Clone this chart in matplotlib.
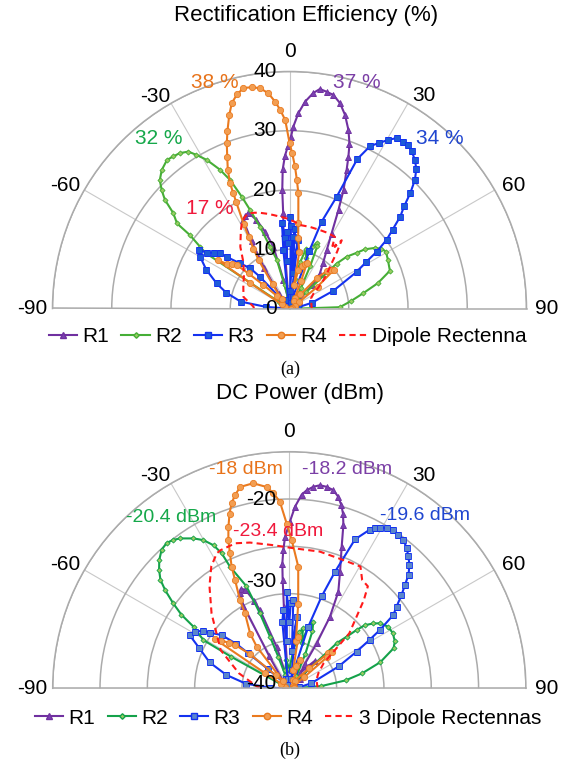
import numpy as np
import matplotlib
matplotlib.use("Agg")
import matplotlib.pyplot as plt
import matplotlib.transforms as mtransforms
from matplotlib.lines import Line2D

plt.rcParams["font.family"] = ["Liberation Sans", "DejaVu Sans"]

W, H = 575, 777

# ---------------- (a) rectification efficiency (%) ----------------
eff_r1_theta = [-90, -75, -60, -45, -36, -32, -29.5, -27.6, -25.5, -23.3, -20.5, -17.6, -14.6, -12, -9,
                -6.5, -4.5, -3.8, -3.5, -2.8, -1.7, -0.5, 0.5, 1.2, 2.6, 4.3, 6.3, 7.9, 9.8, 11.6, 13.8,
                16, 18.3, 20, 21.2, 22.4, 24.5, 26.4, 29.3, 32.5, 36.5, 41, 44, 50, 60, 75, 90]
eff_r1 = [0.3, 0.5, 0.8, 1.5, 3, 8, 13, 16.8, 17.3, 17.6, 16, 13.6, 10.8, 5, 2,
          1.5, 12.8, 16.1, 20, 23.5, 25.8, 27.5, 29, 30.7, 33, 35, 36.6, 37.4, 37.1, 36.8, 35.7,
          34, 31.7, 29.6, 27.5, 25.3, 22, 18.6, 14.5, 11.7, 9.5, 7.8, 5.5, 2, 1, 0.5, 0.3]

eff_r2_theta = [-90, -75, -65, -58, -56.5, -55.4, -53.6, -52.9, -50.6, -48.9, -47.2, -45.3, -42.7, -39.5,
                -37.4, -35.2, -32.8, -31.2, -29.1, -26.6, -24.8, -23.1, -21.8, -19.9, -17.4, -14.6, -12,
                -8, -4, 0, 5, 10, 13, 15.5, 18, 20, 22.5, 24, 26, 29, 33, 38, 43, 45.5, 46.4, 47.8, 50.3,
                51.9, 54.7, 57, 59.5, 64, 69.4, 74, 78.3, 83, 88.5, 90]
eff_r2 = [0.5, 0.8, 1, 2, 17, 18.3, 20.9, 23.8, 25.4, 27.9, 29.4, 30.8, 31.8, 32.5,
          32.3, 32.1, 31.5, 30.3, 28.7, 26.2, 23.9, 20.5, 17.9, 14.7, 10.9, 8.5, 4,
          2, 3, 1.5, 2.5, 5, 8, 10.5, 9, 11, 12, 11.5, 8, 4, 2, 1.5, 2, 4, 11, 13, 14.7,
          16.2, 17.7, 18.5, 18.9, 18.5, 18.1, 15.5, 12.7, 10.5, 8.5, 2]

eff_r3_theta = [-90, -86, -82, -76, -71, -65, -60, -57, -56, -53.7, -51.5, -50.6, -47.6, -44.3, -43, -41,
                -35, -25, -15, -8, -6, -5, -4, -3, -2, -1, 0, 1, 2, 3, 4, 5, 7, 9, 12, 17, 19, 20.3,
                22.9, 24.4, 26.4, 28.3, 30.4, 32.2, 34.3, 36, 37.9, 40.2, 42.3, 44.3, 46.3, 48.3, 50.3,
                52.6, 54.7, 56.9, 58.7, 61.4, 68, 75.6, 82, 90]
eff_r3 = [0.5, 4, 8.3, 11, 13, 15.5, 17.4, 18.2, 16.8, 15.9, 15, 13.7, 11.3, 9.5, 7.3, 2,
          1, 1.5, 1, 1.5, 10, 14.5, 12, 8, 13, 11, 15.5, 14, 3, 12, 13.5, 6, 11.6, 2, 1, 2, 10.3, 15.6,
          20.5, 27.7, 30.6, 31.7, 33, 34, 34.1, 34.1, 33.6, 32.8, 31.8, 30.3, 28.2, 25.9, 24.3,
          21.9, 20.1, 17.6, 15.2, 12.9, 8, 3.9, 1.5, 0.5]

eff_r4_theta = [-90, -75, -62, -57, -56, -54.5, -52.5, -50.5, -49.5, -48, -45, -40, -35, -32.5, -31, -29.7,
                -28.4, -26.6, -26, -25.4, -24, -22.3, -20.8, -19.3, -17.3, -15.7, -13.8, -11.8, -9.7, -7.6,
                -5.6, -4, -2.7, -1.3, 0, 1, 2.2, 3.3, 4.4, 5.9, 7, 9.8, 11, 13, 16, 19, 21, 23, 26, 32, 38,
                42, 45, 47, 49, 52, 56, 65, 78, 90]
eff_r4 = [0.5, 0.8, 1.5, 8, 14.5, 13, 12.3, 11.5, 9.1, 6, 3, 2, 5, 9.7, 11.8, 13.9,
          16.3, 20.1, 21.6, 23.4, 25.6, 27.7, 29.8, 31.7, 34.2, 36, 37.2, 38, 37.9, 37.5,
          36.5, 35, 33.6, 31.8, 28, 26.2, 24, 21.7, 19.5, 14.5, 12, 9.7, 4, 6.7, 7.5, 8, 8.2, 5, 2, 1.5, 3,
          7, 9, 9.5, 9.9, 6, 2, 1, 0.5, 0.3]

eff_dip_theta = [-90, -87, -76, -65, -55, -45, -38.6, -32, -29.2, -26, -23.3, -20, -17.1, -13, -9.7, -5,
                 -1.7, 3, 7.2, 14, 21.3, 27, 32.4, 34.5, 35.5, 36.3, 37.4, 38.5, 40, 42, 46, 50, 54, 58,
                 65, 75, 90]
eff_dip = [6, 6.1, 8, 8.6, 9.4, 11, 13.3, 15.5, 16.5, 17.2, 17.5, 17.2, 16.9, 16.4, 16, 15.5,
           15.2, 14.7, 14.2, 14.2, 14.2, 14.3, 14.3, 12.8, 13.6, 12.9, 14.5, 13.5, 12.5, 11, 9, 7.5, 6, 4.8,
           4, 3.8, 3.75]

# ---------------- (b) DC power (dBm) ----------------
dc_r1_theta = [-90, -60, -40, -32, -29, -27.4, -26, -24, -22, -20.5, -17, -14, -10, -6, -4.5, -3.8, -3.5,
               -3.2, -2.5, -1.6, 0.2, 1.8, 3.65, 5, 6.8, 8.6, 10.5, 12.5, 14.3, 15.9, 17.1, 18.3, 20.3,
               23.5, 26.9, 29.6, 31.3, 32.5, 36, 40, 43, 50, 70, 90]
dc_r1 = [-39.5, -39.5, -39, -36, -30, -28.7, -28.3, -28.6, -30, -31.2, -35.4, -38.5, -39, -38, -35, -31.4, -28.5,
         -26.8, -25.4, -24, -22.4, -20.8, -19.5, -19, -18.55, -18.3, -18.35, -18.55, -19.1, -19.9, -20.7, -21.8, -24.05,
         -26.55, -28.55, -31.3, -34.4, -36.9, -38, -37, -36, -38.5, -39.5, -39.5]

dc_r2_theta = [-90, -75, -64, -61.5, -60.7, -57.3, -55.7, -53.8, -51.7, -49.9, -47.7, -45.4, -42.7, -40.2,
               -38, -36.1, -32.6, -30.1, -27.9, -26.6, -26, -22.8, -21.4, -20.5, -19.2, -17, -12, -6, 0, 6,
               10, 13, 15, 17.1, 19.8, 22, 25, 30, 38, 45, 46.5, 48, 49.1, 50.1, 52.3, 54.4, 58.1, 62, 66,
               69, 74, 78.4, 82, 86, 90]
dc_r2 = [-39.5, -39.5, -39, -33, -29.6, -28, -26.2, -24.8, -23.3, -22.2, -21.4, -20.7, -20.1, -19.9,
         -20.1, -20.4, -21.2, -21.9, -22.9, -24.05, -25.7, -28.3, -31.5, -34.2, -36.5, -38.5, -38, -37, -38, -36,
         -34, -33.5, -35, -33.2, -32.5, -33.5, -36, -38.5, -39, -38, -33, -31.85, -30.6, -29.6, -28.8, -28.2, -27.7, -27.6, -27.8,
         -28.2, -30, -32.15, -34, -36.6, -39.5]

dc_r3_theta = [-90, -88, -84, -78, -72, -66, -62, -59, -56.2, -54.9, -51.8, -50, -49.5, -48, -45, -35, -20,
               -10, -6, -4.4, -3, -1.5, 0, 1, 2.6, 4, 5.9, 8, 12, 15, 17.1, 19.4, 21.4, 23.8, 26.9, 28.2,
               29.4, 31.3, 33.4, 35.4, 37.5, 40, 42, 44.2, 46.4, 48.2, 50.3, 52.7, 54.8, 57.2, 58.9, 61.4,
               66.1, 77, 85, 90]
dc_r3 = [-39.5, -38, -35.4, -33.2, -31.15, -29.6, -28.1, -28.4, -29.05, -29.8, -30.9, -32.7, -34.3, -37, -39, -39.5, -39,
         -39, -33, -31.7, -35, -29.8, -33, -31, -30.7, -36, -32.4, -38, -39, -38, -33.2, -29.7, -26.8, -22.8, -21.2, -20.8,
         -20.5, -20.2, -20.0, -20.1, -20.2, -20.7, -21.2, -21.8, -22.6, -23.6, -24.6, -25.75, -26.55, -28.6, -30.1, -31.9,
         -34.3, -37.6, -39, -39.5]

dc_r4_theta = [-90, -70, -60, -58, -56.5, -55, -53, -51.3, -49, -46, -42, -38, -35.6, -30.6, -29.2, -26.6,
               -25.4, -23.7, -22.4, -20.7, -18.9, -17.3, -15.7, -13.7, -10, -6.4, -4.7, -2.9, -0.9, 0.9,
               4.2, 6, 8, 9.9, 12, 16, 20.6, 25, 35, 45, 48, 49.1, 50.5, 53, 60, 75, 90]
dc_r4 = [-39.5, -39.5, -39, -37, -30.6, -31.2, -32, -32.7, -34.5, -38, -39, -34.4, -32.9, -30.8, -29.3, -27.2,
         -25.8, -24.4, -23.1, -21.8, -20.5, -19.5, -18.8, -18.1, -18.0, -18.6, -19.3, -20.25, -22.6, -24.3,
         -27.1, -31, -35, -34.5, -38, -37.5, -36.8, -39, -39, -37, -34.5, -34.1, -34.8, -38, -39.5, -39.5, -39.5]

dc_dip_theta = [-90, -87, -73.4, -60.9, -46.1, -38, -32.6, -28.2, -26.4, -20.4, -15.1, -6.9, 2, 12.6, 22.3,
                30.3, 33.9, 37.6, 40.2, 47.5, 53.8, 62, 72.8, 90]
dc_dip = [-37, -36.6, -34.45, -31.7, -28.6, -26.3, -24.7, -23.8, -23.7, -23.65, -24.05, -24.75, -25.2, -25.2, -25.3,
          -25.1, -26.2, -26.4, -27.8, -31.4, -35.5, -36.5, -37, -37]

angle_ticks = [-90, -60, -30, 0, 30, 60, 90]
# where each angle label sits: (shown angle in deg, distance from centre in px)
angle_label_pos = [(-90, 257), (-61.2, 256), (-32.2, 251), (0, 257), (32.2, 252), (61.2, 256), (90, 257)]

PURPLE = "#7030A0"
GREEN_A = "#46AE36"
GREEN_B = "#14A24A"
BLUE = "#1432F0"
ORANGE = "#EA7A1F"
RED = "#FF1A1A"

fig = plt.figure(figsize=(W / 100, H / 100), dpi=100)


def px(x, y):
    return x / W, 1 - y / H


def setup_polar(cx, cy, rad, rmin, rmax, rings, ring_labels):
    # polar axes keeps a square box; the half disc sits centred in it
    rect = [(cx - rad) / W, (H - cy - 0.5 * rad) / H, 2 * rad / W, 2 * rad / H]
    ax = fig.add_axes(rect, projection="polar")
    ax.set_theta_zero_location("N")
    ax.set_theta_direction(-1)
    ax.set_thetamin(-90)
    ax.set_thetamax(90)
    ax.set_ylim(rmin, rmax)
    ax.set_thetagrids(angle_ticks, labels=[""] * len(angle_ticks))
    ax.set_rgrids(rings, labels=[""] * len(rings))
    ax.xaxis.grid(True, color="#C8C8C8", lw=0.8)
    ax.yaxis.grid(True, color="#ABABAB", lw=1.1)
    for name in ("polar", "start", "end"):
        ax.spines[name].set_color("#ABABAB")
        ax.spines[name].set_linewidth(1.1)
    ax.spines["inner"].set_visible(False)
    ax.set_facecolor("none")
    for ang, (pos, dist) in zip(angle_ticks, angle_label_pos):
        r = rmin + (rmax - rmin) * dist / rad
        ax.text(np.radians(pos), r, str(ang), ha="center", va="center", fontsize=15)
    for val, dy in ring_labels:
        trans = mtransforms.offset_copy(ax.transData, fig=fig, x=-13, y=dy, units="dots")
        ax.text(0, val, str(val), transform=trans, ha="right", va="center", fontsize=15)
    return ax


def draw_series(ax, series, green, sq_face):
    (t1, v1), (t2, v2), (t3, v3), (t4, v4), (td, vd) = series
    ax.plot(np.radians(t1), v1, color=PURPLE, lw=1.5, marker="^", ms=4,
            mfc="#7B42B0", mec=PURPLE, mew=0.6)
    ax.plot(np.radians(t2), v2, color=green, lw=1.5, marker="D", ms=2.6,
            mfc="#98CC62", mec=green, mew=0.6)
    ax.plot(np.radians(t3), v3, color=BLUE, lw=1.5, marker="s", ms=4.2,
            mfc=sq_face, mec=BLUE, mew=0.6)
    ax.plot(np.radians(t4), v4, color=ORANGE, lw=1.5, marker="o", ms=4.5,
            mfc="#F29E52", mec=ORANGE, mew=0.6)
    ax.plot(np.radians(td), vd, color=RED, lw=1.5, ls=(0, (3, 2)))


def legend(y, last_label, green, sq_face):
    handles = [
        Line2D([], [], color=PURPLE, lw=1.5, marker="^", ms=4.5, mfc="#7B42B0", mec=PURPLE),
        Line2D([], [], color=green, lw=1.5, marker="D", ms=2.8, mfc="#98CC62", mec=green),
        Line2D([], [], color=BLUE, lw=1.5, marker="s", ms=4.4, mfc=sq_face, mec=BLUE),
        Line2D([], [], color=ORANGE, lw=1.5, marker="o", ms=4.6, mfc="#F29E52", mec=ORANGE),
        Line2D([], [], color=RED, lw=1.5, ls=(0, (3, 2))),
    ]
    fig.legend(handles, ["R1", "R2", "R3", "R4", last_label], loc="center",
               bbox_to_anchor=px(288, y), ncol=5, frameon=False, fontsize=15,
               handlelength=1.35, handletextpad=0.25, columnspacing=0.6, borderaxespad=0)


# (a)
ax_a = setup_polar(289.5, 308.5, 237, 0, 40, [10, 20, 30, 40],
                   [(0, 0), (10, 0), (20, 0), (30, 0), (40, 0)])
draw_series(ax_a, [(eff_r1_theta, eff_r1), (eff_r2_theta, eff_r2), (eff_r3_theta, eff_r3),
                   (eff_r4_theta, eff_r4), (eff_dip_theta, eff_dip)], GREEN_A, "#1E5BD8")
fig.text(*px(306, 15), "Rectification Efficiency (%)", ha="center", va="center", fontsize=16)
fig.text(*px(215, 83), "38 %", color="#E8731A", ha="center", va="center", fontsize=15)
fig.text(*px(357, 82), "37 %", color="#7B3FA6", ha="center", va="center", fontsize=15)
fig.text(*px(159, 138), "32 %", color="#15A84A", ha="center", va="center", fontsize=15)
fig.text(*px(440, 138), "34 %", color="#1F45D0", ha="center", va="center", fontsize=15)
fig.text(*px(210, 208), "17 %", color="#F0193C", ha="center", va="center", fontsize=15)
legend(337, "Dipole Rectenna", GREEN_A, "#1E5BD8")
fig.text(*px(290, 369), "(a)", ha="center", va="center", fontsize=13, family="Liberation Serif")

# (b)
ax_b = setup_polar(289.3, 688.3, 236.6, -40, -15, [-35, -30, -25, -20, -15],
                   [(-40, 5), (-30, 12), (-20, 0)])
draw_series(ax_b, [(dc_r1_theta, dc_r1), (dc_r2_theta, dc_r2), (dc_r3_theta, dc_r3),
                   (dc_r4_theta, dc_r4), (dc_dip_theta, dc_dip)], GREEN_B, "#5A86CC")
fig.text(*px(300, 394), "DC Power (dBm)", ha="center", va="center", fontsize=16)
fig.text(*px(246, 470), "-18 dBm", color="#E8731A", ha="center", va="center", fontsize=14)
fig.text(*px(347, 470), "-18.2 dBm", color="#7B3FA6", ha="center", va="center", fontsize=14)
fig.text(*px(171, 518), "-20.4 dBm", color="#15A84A", ha="center", va="center", fontsize=14)
fig.text(*px(425, 515), "-19.6 dBm", color="#1F45D0", ha="center", va="center", fontsize=14)
fig.text(*px(278, 532), "-23.4 dBm", color="#F0193C", ha="center", va="center", fontsize=14)
legend(718, "3 Dipole Rectennas", GREEN_B, "#5A86CC")
fig.text(*px(290, 750), "(b)", ha="center", va="center", fontsize=13, family="Liberation Serif")

fig.savefig("out.png", dpi=100)
